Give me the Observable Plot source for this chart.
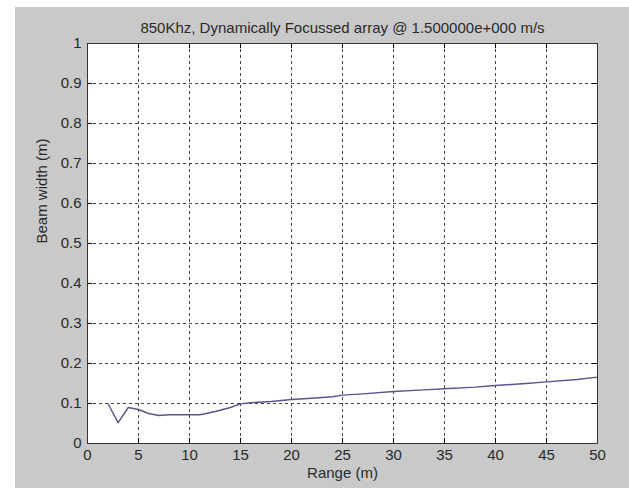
<!DOCTYPE html>
<html><head>
<meta charset="utf-8">
<script src="https://cdn.jsdelivr.net/npm/d3@7"></script>
<script src="https://cdn.jsdelivr.net/npm/@observablehq/plot@0.6"></script>
<style>
body{margin:0;background:#fff;}
#wrap{position:relative;width:629px;height:488px;overflow:hidden;}
#fig{position:absolute;left:15px;top:7px;right:0;bottom:0;background:#c9c9c9;}
#chart{position:absolute;left:0;top:0;}
</style></head><body>
<div id="wrap"><div id="fig"></div><div id="chart"></div></div>
<script>
const rangeM    = [2, 3, 4, 5, 6, 7, 8, 10, 11, 12, 13, 14, 15, 16, 18, 20, 22, 24, 25, 27, 30, 33, 35, 38, 40, 43, 45, 48, 50];
const beamWidth = [0.100, 0.052, 0.090, 0.085, 0.075, 0.070, 0.072, 0.072, 0.072, 0.077, 0.083, 0.090, 0.099, 0.102, 0.105, 0.110, 0.113, 0.117, 0.121, 0.124, 0.130, 0.134, 0.137, 0.141, 0.145, 0.150, 0.154, 0.160, 0.166];
const xTicks = [0, 5, 10, 15, 20, 25, 30, 35, 40, 45, 50];
const yTicks = [0, 0.1, 0.2, 0.3, 0.4, 0.5, 0.6, 0.7, 0.8, 0.9, 1];
const titleText = "850Khz, Dynamically Focussed array @ 1.500000e+000 m/s";
const xLabel = "Range (m)";
const yLabel = "Beam width (m)";

const data = rangeM.map((r, i) => ({r, w: beamWidth[i]}));
const font = "'Liberation Sans', Arial, sans-serif";

const chart = Plot.plot({
  width: 629, height: 488,
  marginLeft: 87, marginRight: 32, marginTop: 43, marginBottom: 45,
  style: {background: "transparent", fontFamily: font, fontSize: "15px", color: "#2a2a2a"},
  x: {domain: [0, 50], ticks: xTicks, label: null},
  y: {domain: [0, 1], ticks: yTicks, label: null},
  marks: [
    Plot.frame({fill: "white"}),
    Plot.gridX(xTicks.slice(1, -1), {stroke: "#222", strokeOpacity: 0.85, strokeDasharray: "3,3"}),
    Plot.gridY(yTicks.slice(1, -1), {stroke: "#222", strokeOpacity: 0.85, strokeDasharray: "3,3"}),
    Plot.ruleX(xTicks, {x: d => d, y1: 0, y2: 0.013, stroke: "#000"}),
    Plot.ruleX(xTicks, {x: d => d, y1: 0.987, y2: 1, stroke: "#000"}),
    Plot.ruleY(yTicks, {y: d => d, x1: 0, x2: 0.5, stroke: "#000"}),
    Plot.ruleY(yTicks, {y: d => d, x1: 49.5, x2: 50, stroke: "#000"}),
    Plot.line(data, {x: "r", y: "w", stroke: "#56568c", strokeWidth: 1.4}),
    Plot.frame({stroke: "#333"}),
    Plot.axisX({ticks: xTicks, tickSize: 0, tickPadding: 6, tickFormat: d => String(d), label: null, fontSize: 15}),
    Plot.axisY({ticks: yTicks, tickSize: 0, tickPadding: 6, tickFormat: d => String(d), label: null, fontSize: 15}),
    Plot.text([titleText], {text: d => d, frameAnchor: "top", dy: -21, fontSize: 15, fill: "#2a2a2a"}),
    Plot.text([xLabel], {text: d => d, frameAnchor: "bottom", dy: 34, fontSize: 15, fill: "#2a2a2a"}),
    Plot.text([yLabel], {text: d => d, frameAnchor: "left", dx: -45, rotate: -90, fontSize: 15, fill: "#2a2a2a"})
  ]
});
document.getElementById("chart").appendChild(chart);
</script>
</body></html>
